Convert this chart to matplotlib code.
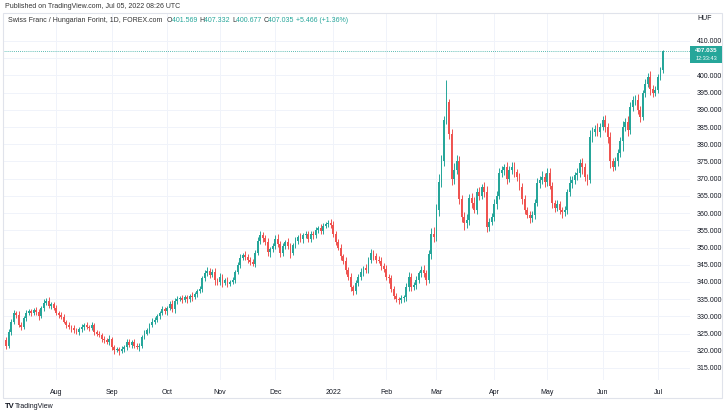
import numpy as np
import pandas as pd
import matplotlib
matplotlib.use('Agg')
import matplotlib.pyplot as plt
from matplotlib.patches import Rectangle

# ---------------- data ----------------
first_open = 323.0
closes = [
    321.5, 325.5, 328.5, 331.0, 330.5, 327.5, 327.0, 329.5, 331.0, 331.5,
    331.0, 331.8, 331.2, 330.0, 332.5, 334.0, 334.5, 333.0, 333.5, 332.5,
    331.0, 330.5, 329.8, 328.5, 327.5, 327.0, 326.5, 326.0, 325.5, 326.2,
    327.0, 327.5, 327.0, 326.5, 327.5, 325.5, 325.0, 324.5, 323.5, 323.0,
    322.5, 323.5, 321.0, 320.2, 320.5, 319.8, 320.5, 321.0, 322.5, 321.8,
    322.5, 321.5, 321.0, 321.5, 324.0, 325.0, 326.0, 327.5, 328.5, 329.0,
    330.0, 331.0, 332.0, 331.5, 332.5, 333.5, 332.0, 334.5, 335.0, 335.3,
    334.8, 335.5, 335.0, 336.0, 335.5, 336.5, 337.5, 338.0, 341.0, 342.5,
    343.2, 342.0, 342.8, 340.5, 340.0, 341.5, 339.8, 340.5, 339.5, 340.0,
    340.5, 343.0, 345.0, 347.0, 347.8, 347.3, 346.5, 345.8, 345.2, 348.5,
    352.0, 353.6, 352.8, 351.5, 348.7, 349.5, 350.5, 352.5, 351.0, 348.5,
    350.5, 351.5, 350.5, 348.5, 350.8, 352.0, 353.0, 352.5, 353.5, 353.8,
    352.5, 354.0, 353.6, 355.0, 355.7, 354.8, 356.3, 356.8, 357.2, 356.5,
    354.0, 351.5, 350.0, 347.5, 346.0, 343.5, 341.5, 338.5, 337.5, 339.7,
    341.4, 343.0, 344.0, 343.5, 346.4, 348.4, 347.5, 346.5, 346.2, 344.5,
    343.8, 341.5, 341.0, 338.0, 336.0, 335.0, 334.8, 335.2, 335.5, 338.5,
    341.5, 338.5, 339.0, 340.5, 342.5, 343.5, 342.5, 340.5, 348.0, 354.0,
    353.0, 361.0, 369.0, 375.0, 387.0, 392.3, 383.0, 370.0, 372.5, 375.0,
    364.0, 359.0, 357.0, 358.0, 364.5, 363.0, 361.0, 366.0, 365.0, 367.5,
    366.0, 356.0, 357.5, 359.0, 362.5, 365.0, 371.6, 372.5, 373.4, 370.0,
    372.5, 373.4, 372.0, 370.5, 367.6, 364.0, 361.0, 359.5, 358.5, 359.5,
    363.0, 368.7, 369.5, 370.5, 369.0, 371.6, 368.0, 363.0, 361.5, 362.5,
    361.0, 360.2, 360.8, 366.0, 368.7, 369.6, 371.0, 371.6, 374.5, 373.4,
    370.5, 369.6, 382.0, 383.5, 384.5, 383.5, 385.0, 387.0, 385.0, 382.0,
    375.0, 373.4, 375.0, 377.5, 381.0, 385.0, 386.5, 384.0, 390.8, 392.9,
    393.0, 390.0, 388.0, 394.9, 397.5, 399.5, 396.0, 395.0, 395.8, 399.5, 401.569, 407.035,
]
upper_wicks = [
    1.0, 0.8, 0.7, 0.9, 0.6, 1.1, 0.8, 0.7, 0.9, 0.6,
    0.7, 0.5, 0.9, 0.8, 0.6, 0.9, 0.7, 1.0, 0.6, 0.8,
    0.9, 0.6, 0.7, 1.0, 0.5, 0.8, 0.6, 0.9, 0.7, 0.6,
    0.8, 0.7, 1.0, 0.6, 0.9, 0.7, 0.5, 0.8, 0.6, 0.9,
    0.7, 1.0, 0.6, 0.8, 0.5, 0.7, 0.9, 0.6, 0.8, 1.0,
    0.6, 0.9, 0.7, 0.8, 0.6, 1.0, 0.7, 0.5, 0.9, 0.8,
    0.7, 0.6, 1.0, 0.8, 0.6, 0.9, 1.2, 0.7, 0.8, 0.6,
    0.9, 0.7, 0.8, 0.6, 1.0, 0.7, 0.5, 0.9, 0.8, 1.0,
    1.1, 0.8, 0.9, 1.3, 0.7, 1.0, 0.8, 0.6, 0.9, 0.7,
    0.8, 0.6, 0.9, 1.0, 0.7, 1.2, 0.8, 0.6, 0.9, 0.8,
    1.0, 1.2, 0.9, 0.8, 1.4, 0.7, 0.9, 1.0, 1.3, 0.8,
    0.9, 0.7, 1.2, 0.8, 0.6, 1.0, 0.7, 1.1, 0.8, 0.9,
    1.0, 0.7, 0.8, 0.9, 0.6, 1.1, 0.8, 0.7, 0.9, 1.0,
    1.2, 0.8, 1.0, 0.9, 0.7, 1.1, 0.8, 1.0, 0.6, 0.9,
    0.8, 1.0, 0.7, 1.2, 0.9, 1.3, 1.0, 0.8, 1.1, 0.9,
    1.0, 1.2, 0.8, 1.1, 0.7, 0.9, 0.6, 1.0, 0.8, 1.2,
    1.3, 1.0, 0.9, 1.1, 0.8, 1.2, 1.5, 0.9, 1.4, 1.8,
    2.0, 1.5, 2.5, 1.8, 1.2, 6.4, 0.8, 1.5, 2.0, 1.8,
    1.5, 1.4, 1.2, 1.6, 1.0, 1.3, 1.8, 1.2, 1.5, 1.0,
    1.4, 1.8, 1.2, 1.0, 1.5, 1.3, 1.6, 1.2, 1.0, 1.4,
    1.1, 1.3, 1.5, 0.9, 1.2, 1.0, 1.4, 0.8, 1.1, 1.2,
    1.0, 1.5, 1.3, 1.8, 1.2, 1.4, 1.6, 1.0, 0.9, 1.2,
    1.1, 0.9, 1.3, 1.0, 2.2, 1.2, 1.0, 1.4, 1.1, 1.5,
    1.2, 1.0, 2.0, 1.5, 1.2, 1.8, 1.3, 1.1, 1.4, 1.2,
    1.5, 1.0, 1.3, 1.2, 1.1, 1.8, 1.2, 1.6, 1.4, 1.1,
    1.3, 1.5, 1.2, 1.0, 1.4, 1.1, 1.8, 1.2, 1.0, 0.9, 0.8, 0.297,
]
lower_wicks = [
    0.9, 0.7, 0.8, 0.6, 1.0, 0.7, 0.9, 0.6, 0.8, 0.7,
    0.8, 0.6, 0.7, 1.0, 0.5, 0.8, 0.7, 0.6, 0.9, 0.7,
    0.6, 0.9, 0.7, 0.5, 0.8, 0.6, 1.0, 0.7, 0.6, 0.8,
    0.7, 0.9, 0.6, 0.8, 0.5, 1.0, 0.7, 0.6, 0.9, 0.8,
    0.6, 0.8, 0.7, 1.0, 0.6, 0.9, 0.5, 0.8, 0.7, 0.6,
    0.9, 0.7, 0.6, 1.1, 0.8, 0.7, 0.5, 0.9, 0.6, 0.8,
    0.7, 0.9, 0.6, 0.8, 1.0, 0.7, 0.6, 0.9, 0.8, 0.5,
    0.8, 0.6, 1.0, 0.7, 0.9, 0.6, 0.8, 0.7, 0.9, 0.6,
    0.9, 1.0, 0.7, 1.4, 0.8, 0.9, 1.3, 0.7, 1.0, 0.8,
    0.7, 0.9, 0.8, 1.0, 0.6, 0.9, 1.1, 0.8, 0.7, 0.9,
    0.8, 1.0, 1.2, 0.9, 1.1, 1.5, 0.8, 1.0, 0.9, 1.2,
    0.9, 0.8, 1.0, 1.6, 0.7, 0.9, 1.0, 0.8, 1.1, 0.7,
    0.9, 0.8, 1.0, 0.7, 0.9, 1.0, 0.8, 0.6, 0.9, 0.8,
    1.0, 0.9, 0.8, 1.0, 0.9, 1.2, 0.8, 1.0, 1.4, 0.9,
    1.0, 0.8, 1.2, 0.9, 0.8, 1.0, 1.1, 0.9, 0.8, 1.0,
    0.9, 1.0, 1.2, 0.8, 1.0, 0.9, 1.1, 0.8, 1.0, 0.9,
    1.0, 1.2, 0.9, 1.0, 0.8, 1.1, 1.0, 1.3, 0.9, 1.2,
    1.5, 1.2, 1.8, 1.5, 1.4, 1.2, 1.6, 1.8, 1.5, 1.2,
    1.4, 1.6, 1.8, 1.2, 1.4, 1.5, 1.1, 1.3, 1.2, 1.0,
    1.2, 1.5, 1.3, 1.0, 1.2, 1.4, 1.0, 1.1, 1.3, 1.5,
    1.0, 1.2, 1.4, 1.1, 1.0, 1.5, 1.2, 1.0, 1.4, 1.1,
    1.2, 1.0, 1.3, 1.1, 1.5, 1.2, 1.0, 1.4, 1.2, 1.0,
    1.3, 1.5, 1.1, 1.2, 1.0, 1.4, 1.1, 1.3, 1.0, 2.0,
    1.2, 1.5, 1.0, 1.4, 1.2, 1.1, 1.3, 1.0, 1.4, 1.5,
    1.8, 1.2, 1.0, 1.3, 1.1, 3.0, 1.2, 1.5, 1.1, 1.0,
    1.4, 1.2, 1.5, 1.1, 1.3, 1.0, 1.6, 1.2, 1.1, 1.0, 0.9, 0.892,
]
start_date, end_date = '2021-07-05', '2022-07-05'
month_labels = ['Aug', 'Sep', 'Oct', 'Nov', 'Dec', '2022', 'Feb', 'Mar',
                'Apr', 'May', 'Jun', 'Jul']
price_ticks = list(range(315, 411, 5))
hidden_price_label = 405   # covered by the last-price tag in the reference
last_price = 407.035
countdown = '12:33:43'

# ---------------- derived ----------------
dates = pd.bdate_range(start_date, end_date)
c = np.array(closes)
o = np.concatenate([[first_open], c[:-1]])
h = np.maximum(o, c) + np.array(upper_wicks)
l = np.minimum(o, c) - np.array(lower_wicks)
n = len(c)
x = np.arange(n)

month_key = dates.to_period('M')
month_pos = [i for i in range(1, n) if month_key[i] != month_key[i - 1]]

# ---------------- figure ----------------
W, H = 727, 415
fig = plt.figure(figsize=(W / 100, H / 100), dpi=100)
fig.patch.set_facecolor('white')
FONT = 'Liberation Sans'
plt.rcParams['font.family'] = [FONT, 'DejaVu Sans']

def fx(px):
    return px / W

def fy(py):
    return 1 - py / H

ax = fig.add_axes([fx(3), fy(380), fx(687), 367 / H])
for s in ax.spines.values():
    s.set_visible(False)

up = '#26a69a'
dn = '#ef5350'
cols = np.where(c >= o, up, dn)
ax.vlines(x, l, h, colors=cols, lw=0.7, zorder=3)
ax.bar(x, np.maximum(np.abs(c - o), 0.1), bottom=np.minimum(o, c),
       width=0.72, color=cols, lw=0, zorder=4)

ax.set_xlim(-1.19, 271.75)
ax.set_ylim(311.51, 418.13)

ax.set_yticks(price_ticks)
ax.set_yticklabels(['' if v == hidden_price_label else f'{v:.3f}' for v in price_ticks])
ax.yaxis.tick_right()
ax.tick_params(axis='y', length=0, pad=5, labelsize=5, labelcolor='#131722')
ax.set_xticks(month_pos)
ax.set_xticklabels(month_labels)
ax.tick_params(axis='x', length=0, pad=6.5, labelsize=5, labelcolor='#131722')
ax.grid(True, color='#f0f3fa', lw=0.7, zorder=0)

ax.axhline(last_price, color=up, lw=0.6, ls=(0, (1, 1.5)), zorder=2)

# outer frame
fig.add_artist(Rectangle((fx(3), fy(398)), fx(719), 385 / H, transform=fig.transFigure,
                         fill=False, ec='#e0e3eb', lw=0.8))

# price label box
fig.add_artist(Rectangle((fx(690), fy(63)), fx(32), 17 / H, transform=fig.transFigure,
                         fc=up, ec='none'))
fig.text(fx(706), fy(50.3), f'{last_price:.3f}', color='white', fontsize=4.5,
         ha='center', va='center', fontweight='bold')
fig.text(fx(706), fy(58.3), countdown, color='white', fontsize=4.0,
         ha='center', va='center')
fig.text(fx(697), fy(18), 'HUF', color='#131722', fontsize=5, va='center')

# header texts
fig.text(fx(5), fy(6), 'Published on TradingView.com, Jul 05, 2022 08:26 UTC',
         fontsize=5, color='#333333', va='center')

renderer = fig.canvas.get_renderer()
pieces = [('Swiss Franc / Hungarian Forint, 1D, FOREX.com  ', '#333333'),
          ('O', '#333333'), ('401.569 ', up),
          ('H', '#333333'), ('407.332 ', up),
          ('L', '#333333'), ('400.677 ', up),
          ('C', '#333333'), ('407.035 ', up),
          ('+5.466 (+1.36%)', up)]
xp = 8
for txt, col in pieces:
    t = fig.text(fx(xp), fy(20), txt, fontsize=5, color=col, va='center')
    bb = t.get_window_extent(renderer)
    xp += bb.width

fig.text(fx(5), fy(406), 'TV', fontsize=5.5, fontweight='bold', color='#131722', va='center')
fig.text(fx(15), fy(406), 'TradingView', fontsize=5, color='#131722', va='center')

fig.savefig('out.png', dpi=100, facecolor='white')
